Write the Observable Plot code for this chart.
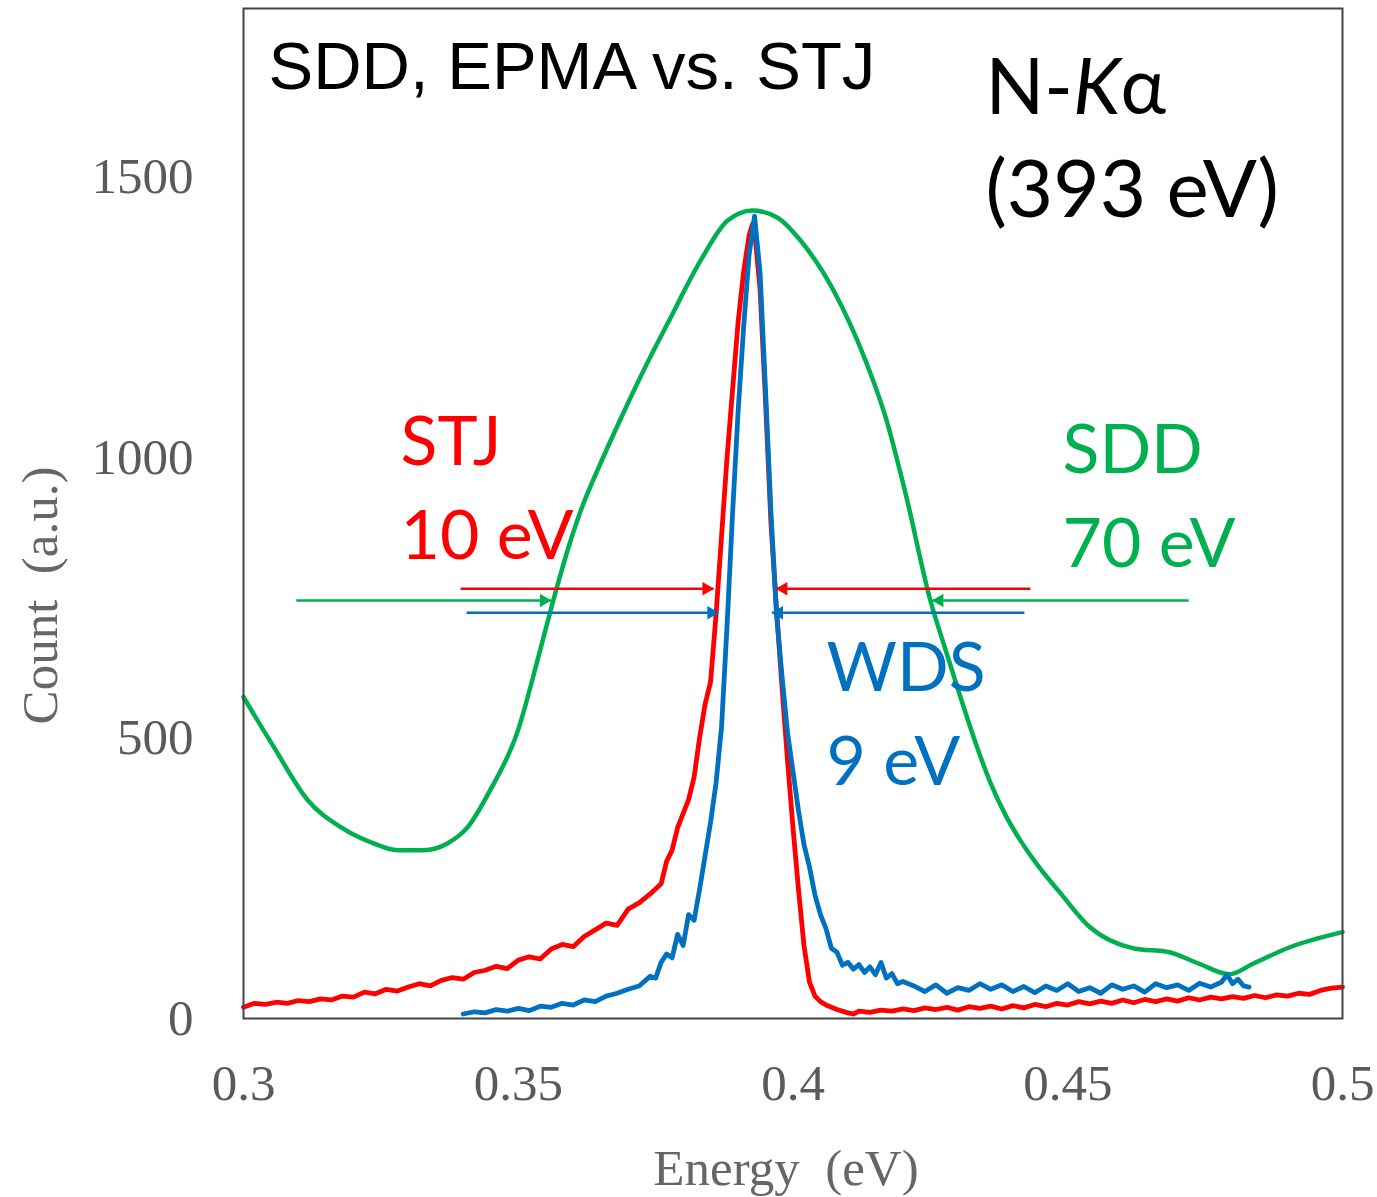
<!DOCTYPE html>
<html><head><meta charset="utf-8">
<script src="https://cdn.jsdelivr.net/npm/d3@7"></script>
<script src="https://cdn.jsdelivr.net/npm/@observablehq/plot@0.6"></script>
<style>html,body{margin:0;padding:0;background:#fff}</style>
</head><body><div id="chart"></div>
<script>
// ---- data ----
const stjEnergy = [0.300,0.302,0.304,0.306,0.308,0.310,0.312,0.314,0.316,0.318,0.320,0.322,0.324,0.326,0.328,0.330,0.332,0.334,0.336,0.338,0.340,0.342,0.344,0.346,0.348,0.350,0.352,0.354,0.356,0.358,0.360,0.362,0.364,0.366,0.368,0.370,0.372,0.374,0.376,0.377,0.378,0.379,0.380,0.381,0.382,0.383,0.384,0.385,0.386,0.387,0.388,0.389,0.390,0.391,0.392,0.3926,0.393,0.394,0.395,0.396,0.397,0.398,0.399,0.400,0.401,0.402,0.403,0.404,0.405,0.406,0.408,0.410,0.411,0.412,0.414,0.416,0.418,0.420,0.422,0.424,0.426,0.428,0.430,0.432,0.434,0.436,0.438,0.440,0.442,0.444,0.446,0.448,0.450,0.452,0.454,0.456,0.458,0.460,0.462,0.464,0.466,0.468,0.470,0.472,0.474,0.476,0.478,0.480,0.482,0.484,0.486,0.488,0.490,0.492,0.494,0.496,0.498,0.500];
const stjCount  = [20,27,25,29,27,32,30,35,33,40,38,47,44,52,49,56,62,58,68,73,70,82,86,93,89,104,110,106,124,132,128,146,158,170,166,195,206,222,240,280,300,340,365,390,430,500,560,600,720,860,1000,1120,1240,1330,1395,1415,1405,1300,1100,880,730,590,460,340,230,130,65,40,30,24,16,10,8,13,11,15,13,17,14,19,16,20,15,21,18,22,17,23,19,25,21,27,24,30,26,31,27,33,28,34,30,35,31,37,33,38,35,39,36,41,37,42,40,45,43,50,54,56];

const wdsEnergy = [0.340,0.342,0.344,0.346,0.348,0.350,0.352,0.354,0.356,0.358,0.360,0.362,0.364,0.366,0.368,0.370,0.372,0.374,0.375,0.376,0.377,0.378,0.379,0.380,0.381,0.382,0.383,0.384,0.385,0.386,0.387,0.388,0.389,0.390,0.391,0.392,0.393,0.394,0.395,0.396,0.397,0.398,0.399,0.400,0.401,0.402,0.403,0.404,0.405,0.406,0.407,0.408,0.409,0.410,0.411,0.412,0.413,0.414,0.415,0.416,0.417,0.418,0.419,0.420,0.422,0.424,0.426,0.428,0.430,0.432,0.434,0.436,0.438,0.440,0.442,0.444,0.446,0.448,0.450,0.452,0.454,0.456,0.458,0.460,0.462,0.464,0.466,0.468,0.470,0.472,0.474,0.476,0.478,0.479,0.480,0.481,0.482,0.483];
const wdsCount  = [8,12,10,16,13,18,14,22,20,27,24,33,30,40,45,52,58,75,72,100,115,108,150,130,185,175,230,290,350,420,520,700,900,1080,1230,1360,1430,1330,1120,900,720,610,510,440,370,310,270,220,185,160,125,118,95,100,88,96,82,92,78,100,72,80,62,66,58,48,60,45,55,50,62,52,60,48,57,46,58,50,62,48,55,45,60,52,58,47,62,55,60,50,63,56,65,78,62,70,58,56];

const sddEnergy = [0.3000,0.3055,0.3117,0.3177,0.3237,0.3280,0.3328,0.3371,0.3408,0.3449,0.3498,0.3540,0.3564,0.3590,0.3613,0.3650,0.3686,0.3746,0.3772,0.3832,0.3881,0.3926,0.3972,0.4014,0.4074,0.4131,0.4169,0.4205,0.4250,0.4277,0.4305,0.4332,0.4359,0.4387,0.4414,0.4450,0.4487,0.4540,0.4620,0.4685,0.4738,0.4794,0.4838,0.4904,0.5000];
const sddCount  = [573,484,389,341,312,300,300,312,341,407,509,657,746,835,903,990,1068,1190,1239,1351,1422,1440,1427,1386,1297,1175,1070,935,745,659,572,492,421,362,317,267,223,163,125,118,98,79,98,127,154];

// FWHM arrows: series, tail energy, head energy, count level
const arrowSeries = ["STJ","STJ","SDD","SDD","WDS","WDS"];
const arrowFrom   = [0.3395,0.4432,0.3096,0.4720,0.3406,0.4421];
const arrowTo     = [0.3855,0.3970,0.3559,0.4254,0.3864,0.3962];
const arrowLevel  = [766,766,745,745,723,723];

const seriesNames  = ["STJ","SDD","WDS"];
const seriesColors = ["#ff0000","#00b050","#0070c0"];
const seriesLabels = ["STJ\n10 eV","SDD\n70 eV","WDS\n9 eV"];

const xTicks = [0.3,0.35,0.4,0.45,0.5];
const xTickLabels = ["0.3","0.35","0.4","0.45","0.5"];
const yTicks = [0,500,1000,1500];
const yTickLabels = ["0","500","1000","1500"];

const titleText = "SDD, EPMA vs. STJ";
const lineText = "N-Kα";
const energyText = "(393 eV)";
const xLabel = "Energy  (eV)";
const yLabel = "Count  (a.u.)";

// ---- tables ----
const rows = (name, E, C) => E.map((e, i) => ({series: name, energy: e, count: C[i]}));
const stj = rows("STJ", stjEnergy, stjCount);
const wds = rows("WDS", wdsEnergy, wdsCount);
const sdd = rows("SDD", sddEnergy, sddCount);
const arrows = arrowSeries.map((s, i) => ({series: s, from: arrowFrom[i], to: arrowTo[i], level: arrowLevel[i]}));
const rightArrows = arrows.filter(d => d.to > d.from);
const leftArrows = arrows.filter(d => d.to < d.from);
const colorOf = s => seriesColors[seriesNames.indexOf(s)];

const sansLabel = {fontFamily: "Lato", fontSize: 68, textAnchor: "start", lineAnchor: "top", frameAnchor: "top-left", lineHeight: 1.38};

const plot = Plot.plot({
  width: 1377, height: 1197,
  marginLeft: 243, marginRight: 35, marginTop: 8, marginBottom: 179,
  x: {domain: [0.3, 0.5]},
  y: {domain: [0, 1800]},
  style: {background: "#fff", fontFamily: "Liberation Serif"},
  marks: [
    Plot.axisX({ticks: xTicks, tickFormat: d => xTickLabels[xTicks.indexOf(d)], tickSize: 0, tickPadding: 45, fontSize: 51, fill: "#5a5a5a", label: null}),
    Plot.axisY({ticks: yTicks, tickFormat: d => yTickLabels[yTicks.indexOf(d)], tickSize: 0, tickPadding: 50, fontSize: 51, fill: "#5a5a5a", label: null}),
    Plot.text([xLabel], {frameAnchor: "bottom", dx: -7, dy: 130, lineAnchor: "top", fontSize: 51, fill: "#666", fontFamily: "Liberation Serif"}),
    Plot.text([yLabel], {frameAnchor: "left", rotate: -90, textAnchor: "middle", dx: -203, dy: 82, lineAnchor: "middle", fontSize: 51, fill: "#666", fontFamily: "Liberation Serif"}),
    Plot.line(sdd, {x: "energy", y: "count", stroke: colorOf("SDD"), strokeWidth: 4.5, curve: "monotone-x"}),
    Plot.line(stj, {x: "energy", y: "count", stroke: colorOf("STJ"), strokeWidth: 4.8}),
    Plot.line(wds, {x: "energy", y: "count", stroke: colorOf("WDS"), strokeWidth: 4.8}),
    Plot.link(arrows, {x1: "from", x2: "to", y1: "level", y2: "level", stroke: d => colorOf(d.series), strokeWidth: 2.5}),
    Plot.dot(rightArrows, {x: "to", y: "level", symbol: "triangle", r: 5, rotate: 90, dx: -7, fill: d => colorOf(d.series), stroke: null}),
    Plot.dot(leftArrows, {x: "to", y: "level", symbol: "triangle", r: 5, rotate: -90, dx: 7, fill: d => colorOf(d.series), stroke: null}),
    Plot.text([seriesLabels[0]], {...sansLabel, fill: seriesColors[0], dx: 157, dy: 390}),
    Plot.text([seriesLabels[1]], {...sansLabel, fill: seriesColors[1], dx: 819, dy: 398}),
    Plot.text([seriesLabels[2]], {...sansLabel, fill: seriesColors[2], dx: 583, dy: 616}),
    Plot.text([titleText], {frameAnchor: "top-left", textAnchor: "start", lineAnchor: "top", dx: 25, dy: 33, fontSize: 67, fill: "#000", fontFamily: "Liberation Sans"}),
    Plot.text([lineText], {frameAnchor: "top-left", textAnchor: "start", lineAnchor: "top", dx: 742, dy: 51, fontSize: 77, fill: "#000", fontFamily: "Lato"}),
    Plot.text([energyText], {frameAnchor: "top-left", textAnchor: "start", lineAnchor: "top", dx: 742, dy: 152, fontSize: 80, fill: "#000", fontFamily: "Lato"}),
    Plot.frame({stroke: "#444", strokeWidth: 2})
  ]
});
document.getElementById("chart").appendChild(plot);

// italic K in "N-Kα"
plot.querySelectorAll("text").forEach(t => {
  if (t.textContent === lineText) {
    t.textContent = "";
    const parts = [["N-", "normal"], ["K", "italic"], ["α", "normal"]];
    for (const [s, st] of parts) {
      const ts = document.createElementNS("http://www.w3.org/2000/svg", "tspan");
      ts.textContent = s;
      ts.setAttribute("font-style", st);
      t.appendChild(ts);
    }
  }
});
</script>
</body></html>
